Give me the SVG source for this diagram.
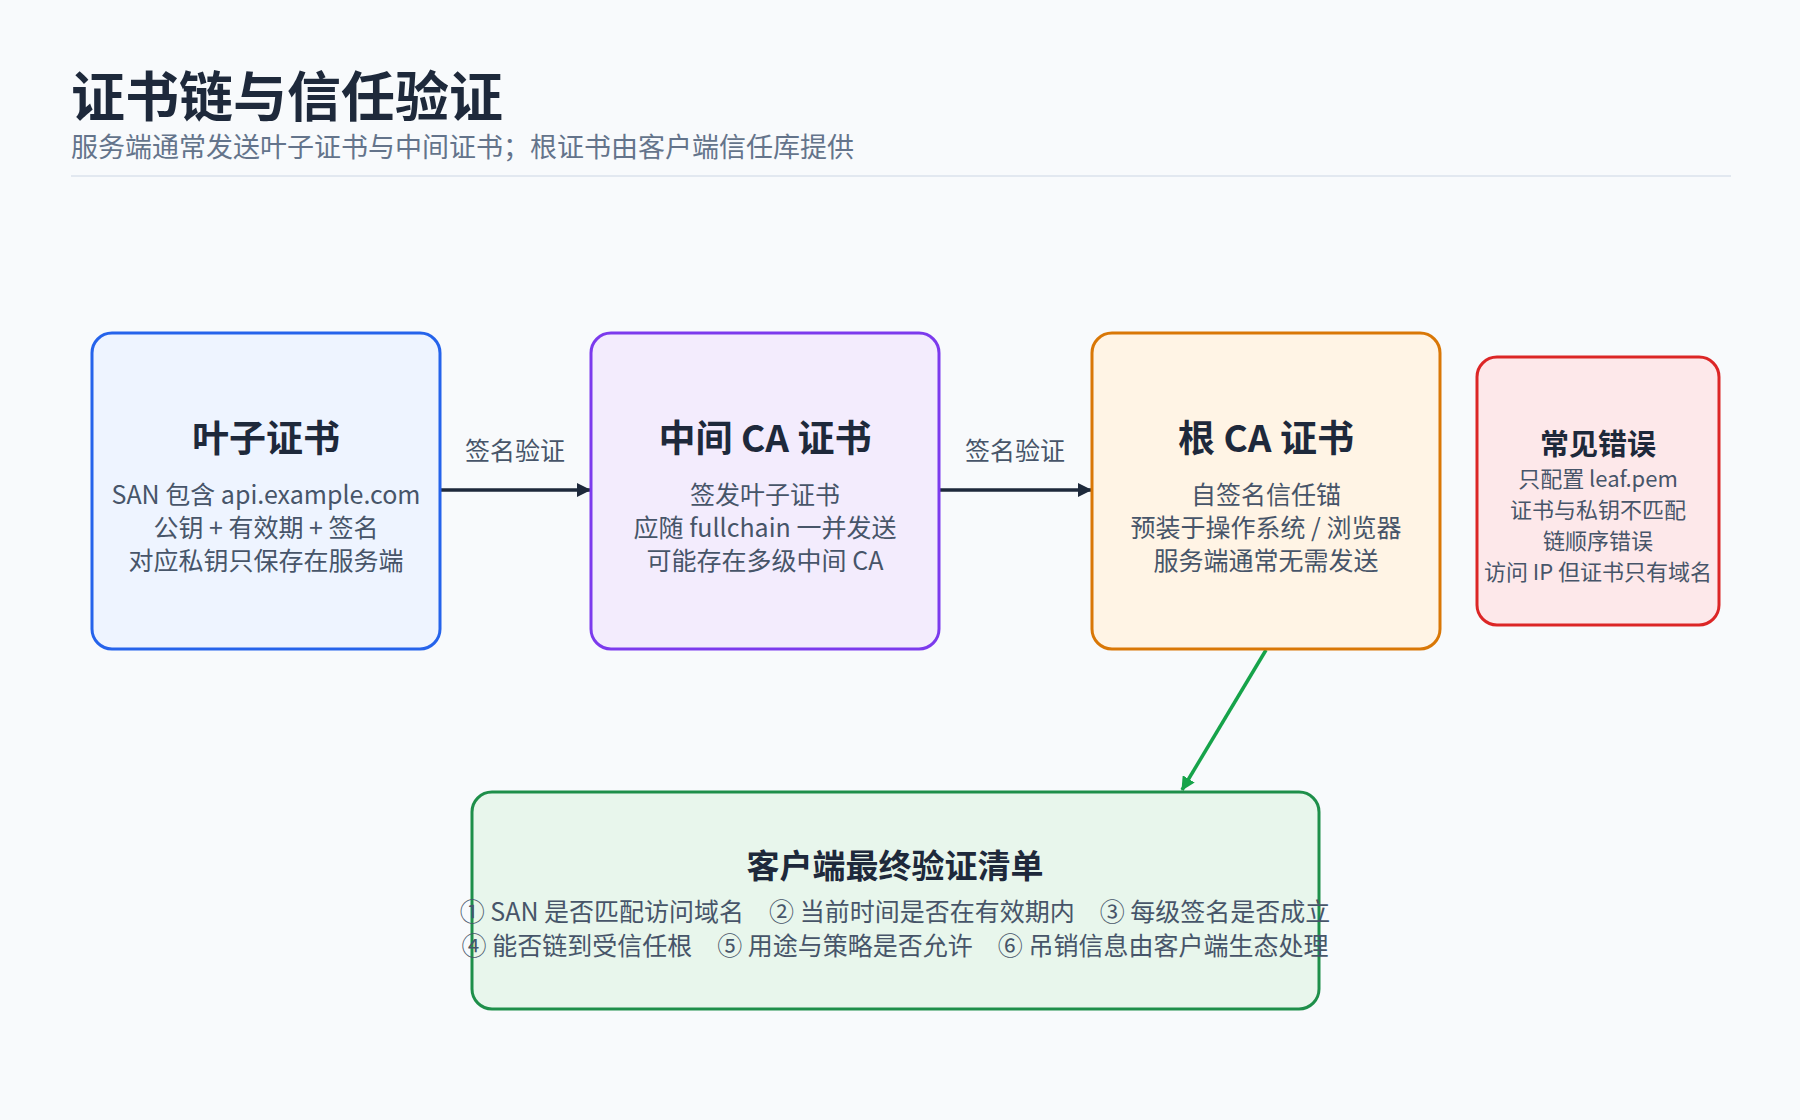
<svg xmlns="http://www.w3.org/2000/svg" width="1800" height="1120" viewBox="0 0 1800 1120">
<style>
text{font-family:"Noto Sans CJK SC","Noto Sans",sans-serif;text-anchor:middle}
.t{font-size:37px;font-weight:700;fill:#1e293b}
.b{font-size:25px;fill:#475569}
.e{font-size:22px;fill:#475569}
.l{font-size:25px;fill:#475569}
</style>
<defs>
<marker id="ah" markerWidth="14" markerHeight="14" refX="13" refY="7" orient="auto" markerUnits="userSpaceOnUse"><path d="M0,0 L14,7 L0,14 z" fill="#1e293b"/></marker>
<marker id="ag" markerWidth="14" markerHeight="14" refX="13" refY="7" orient="auto" markerUnits="userSpaceOnUse"><path d="M0,0 L14,7 L0,14 z" fill="#16a34a"/></marker>
</defs>
<rect width="1800" height="1120" fill="#f8fafc"/>
<text x="71" y="117" style="text-anchor:start;font-size:54px;font-weight:700;fill:#1e293b">证书链与信任验证</text>
<text x="71" y="157" style="text-anchor:start;font-size:27px;fill:#64748b">服务端通常发送叶子证书与中间证书；根证书由客户端信任库提供</text>
<line x1="71" y1="176" x2="1731" y2="176" stroke="#e2e8f0" stroke-width="2"/>
<g id="connectors">
<line x1="440" y1="490" x2="590" y2="490" stroke="#1e293b" stroke-width="3.5" marker-end="url(#ah)"/>
<text class="l" x="515" y="460">签名验证</text>
<line x1="939" y1="490" x2="1091" y2="490" stroke="#1e293b" stroke-width="3.5" marker-end="url(#ah)"/>
<text class="l" x="1015" y="460">签名验证</text>
<line x1="1266" y1="650" x2="1182" y2="790" stroke="#16a34a" stroke-width="3.5" marker-end="url(#ag)"/>
</g>
<g id="leaf">
<rect x="92" y="333" width="348" height="316" rx="20" fill="#eef4ff" stroke="#2563eb" stroke-width="3"/>
<text class="t" x="266" y="452">叶子证书</text>
<text class="b" x="266" y="504">SAN 包含 api.example.com</text>
<text class="b" x="266" y="537">公钥 + 有效期 + 签名</text>
<text class="b" x="266" y="570">对应私钥只保存在服务端</text>
</g>
<g id="intermediate">
<rect x="591" y="333" width="348" height="316" rx="20" fill="#f3ecfd" stroke="#7c3aed" stroke-width="3"/>
<text class="t" x="765" y="452">中间 CA 证书</text>
<text class="b" x="765" y="504">签发叶子证书</text>
<text class="b" x="765" y="537">应随 fullchain 一并发送</text>
<text class="b" x="765" y="570">可能存在多级中间 CA</text>
</g>
<g id="root">
<rect x="1092" y="333" width="348" height="316" rx="20" fill="#fff4e5" stroke="#d97706" stroke-width="3"/>
<text class="t" x="1266" y="452">根 CA 证书</text>
<text class="b" x="1266" y="504">自签名信任锚</text>
<text class="b" x="1266" y="537">预装于操作系统 / 浏览器</text>
<text class="b" x="1266" y="570">服务端通常无需发送</text>
</g>
<g id="errors">
<rect x="1477" y="357" width="242" height="268" rx="20" fill="#fde8ea" stroke="#dc2626" stroke-width="3"/>
<text x="1598" y="455" style="font-size:29px;font-weight:700;fill:#1e293b">常见错误</text>
<text class="e" x="1598" y="487">只配置 leaf.pem</text>
<text class="e" x="1598" y="518">证书与私钥不匹配</text>
<text class="e" x="1598" y="549">链顺序错误</text>
<text class="e" x="1598" y="580">访问 IP 但证书只有域名</text>
</g>
<g id="checklist">
<rect x="472" y="792" width="847" height="217" rx="20" fill="#e8f6ec" stroke="#1e8f4a" stroke-width="3"/>
<text x="895" y="878" style="font-size:33px;font-weight:700;fill:#1e293b">客户端最终验证清单</text>
<text class="b" x="895" y="921">① SAN 是否匹配访问域名　② 当前时间是否在有效期内　③ 每级签名是否成立</text>
<text class="b" x="895" y="955">④ 能否链到受信任根　⑤ 用途与策略是否允许　⑥ 吊销信息由客户端生态处理</text>
</g>
</svg>
